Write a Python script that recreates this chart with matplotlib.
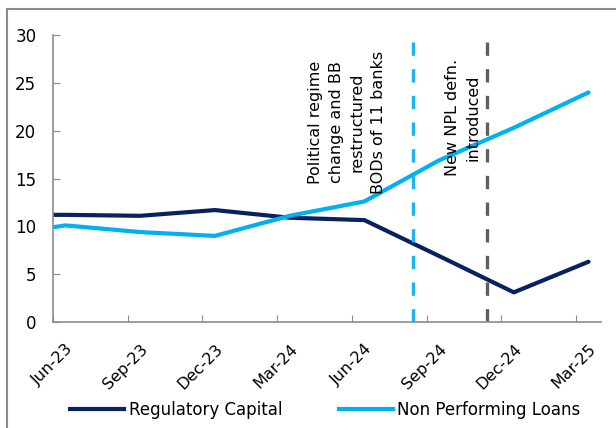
import matplotlib.pyplot as plt
import matplotlib.transforms as mtransforms
from matplotlib.lines import Line2D

# quarterly data, x in months from Jun-23 (point drawn mid-month)
months = [-3, 0, 3, 6, 9, 12, 15, 18, 21]
reg_capital = [11.2, 11.2, 11.1, 11.7, 10.9, 10.65, 6.9, 3.1, 6.3]
npl = [8.9, 10.1, 9.4, 9.0, 11.1, 12.6, 16.9, 20.3, 24.0]
tick_labels = ["Jun-23", "Sep-23", "Dec-23", "Mar-24", "Jun-24",
               "Sep-24", "Dec-24", "Mar-25"]
event_months = [14.44, 17.44]  # 5 Aug 2024, mid Nov 2024
event_texts = ["Political regime\nchange and BB\nrestructured\nBODs of 11 banks",
               "New NPL defn.\nintroduced"]

navy = "#0b2061"
light = "#00b0f0"
grey_axis = "#8c8c8c"

plt.rcParams['font.family'] = ['DejaVu Sans']

fig = plt.figure(figsize=(6.16, 4.28), dpi=100)
ax = fig.add_axes([53/616, 1-322/428, (601-53)/616, (322-35)/428])

x = [m + 0.5 for m in months]
ax.plot(x, reg_capital, color=navy, lw=3, solid_capstyle='round', solid_joinstyle='round')
ax.plot(x, npl, color=light, lw=3, solid_capstyle='round', solid_joinstyle='round')

ax.axvline(event_months[0], color="#1ab4ee", lw=2.4, dashes=(4, 4))
ax.axvline(event_months[1], color="#5f5f5f", lw=2.4, dashes=(4, 4))

ax.text(11.8, 20.9, event_texts[0], rotation=90, ha='center', va='center',
        fontsize=11.5, multialignment='center', linespacing=1.5)
ax.text(16.45, 21.4, event_texts[1], rotation=90, ha='center', va='center',
        fontsize=11.5, multialignment='center', linespacing=1.5)

ax.set_xlim(0, 22)
ax.set_ylim(0, 30)
ax.set_yticks(range(0, 31, 5))
ax.set_xticks(range(0, 22, 3))
ax.set_xticklabels([])
ax.set_xticks([m + 0.5 for m in range(0, 22, 3)], minor=True)
ax.set_xticklabels(tick_labels, minor=True, rotation=45, ha='right',
                   va='top', rotation_mode='anchor', fontsize=11.5)
shift = mtransforms.ScaledTranslation(-4/100, 0, fig.dpi_scale_trans)
for lab in ax.get_xticklabels(minor=True):
    lab.set_transform(lab.get_transform() + shift)
ax.tick_params(axis='x', which='minor', length=0, pad=14)
ax.tick_params(axis='x', which='major', direction='in', length=5, color=grey_axis)
ax.tick_params(axis='y', direction='in', length=5, color=grey_axis, labelsize=12, pad=12)

for s in ['top', 'right']:
    ax.spines[s].set_visible(False)
for s in ['left', 'bottom']:
    ax.spines[s].set_color(grey_axis)
    ax.spines[s].set_linewidth(1.2)

handles = [Line2D([], [], color=navy, lw=3), Line2D([], [], color=light, lw=3)]
fig.legend(handles, ["Regulatory Capital", "Non Performing Loans"], loc='center',
           bbox_to_anchor=(0.528, 1-410/428), ncol=2, frameon=False, fontsize=12,
           handlelength=3.25, handletextpad=0.25, columnspacing=3.4)

# outer frame (top and left visible)
fig.add_artist(Line2D([7/616, 1], [1-9/428, 1-9/428], color=grey_axis, lw=1.5))
fig.add_artist(Line2D([7/616, 7/616], [0, 1-9/428], color=grey_axis, lw=1.5))

fig.savefig("out.png", dpi=100)
